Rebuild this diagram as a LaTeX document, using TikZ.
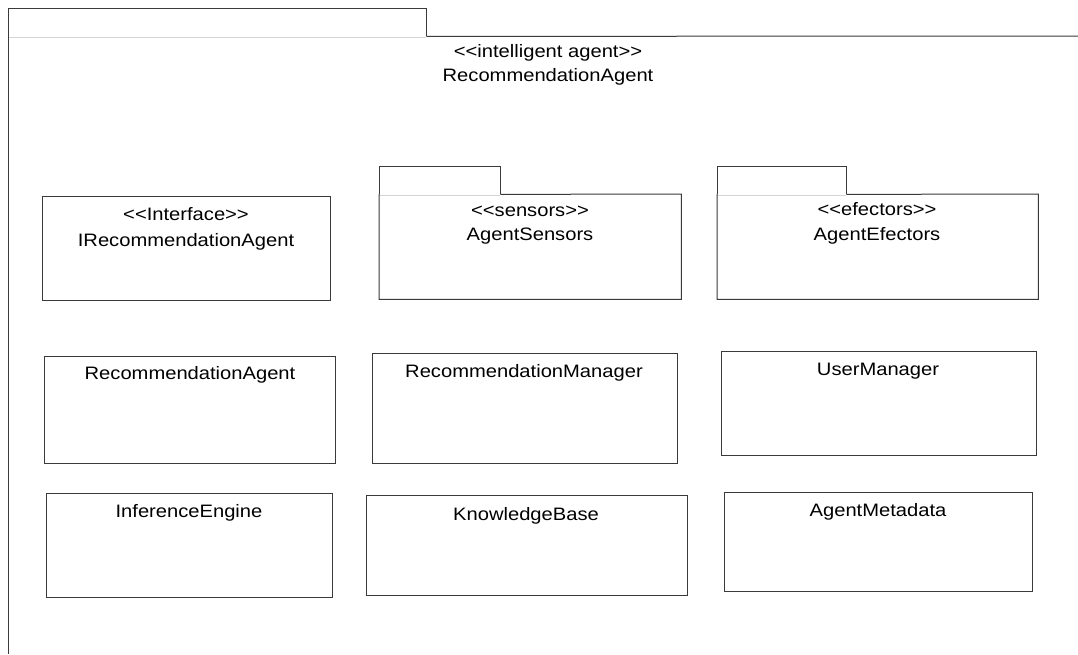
\documentclass[tikz,border=0pt]{standalone}
\usepackage{fontspec}
\setmainfont{Liberation Sans}[FakeStretch=1.12,Ligatures=TeXOff]
\definecolor{umlline}{HTML}{3A3A3A}
\definecolor{umlfaint}{HTML}{D4D4D4}
\begin{document}
\begin{tikzpicture}[x=1pt,y=-1pt,
  outline/.style={draw=umlline, line width=1pt},
  faint/.style={draw=umlfaint, line width=1pt},
  frame/.style={shape=rectangle, inner sep=0pt, anchor=north west},
  classbox/.style={frame, draw=umlline, line width=1pt},
  txt/.style={anchor=base, inner sep=0pt, font=\fontsize{18}{21}\selectfont}]
\useasboundingbox[fill=white] (0,0) rectangle (1078,654);

% outer package: RecommendationAgent
\node[frame, minimum width=418pt, minimum height=28pt] (pkgTab) at (8,8) {};
\coordinate (pkgFoot) at (8,654);
\coordinate (pkgEnd) at (1078,36);
\draw[outline] (pkgTab.south west) -- (pkgTab.north west) -- (pkgTab.north east) -- (pkgTab.south east);
\draw[faint] ([yshift=-1.5pt]pkgTab.south west) -- ([yshift=-1.5pt]pkgTab.south east);
\draw[outline] (pkgTab.south west) -- (pkgFoot);
\draw[outline] (pkgTab.south east) -- (pkgEnd);
\node[txt] (pkgStereo) at (548,57) {<<intelligent agent>>};
\node[txt] (pkgName) at (548,81) {RecommendationAgent};

% interface
\node[classbox, minimum width=288pt, minimum height=104pt] (iface) at (42,196) {};
\node[txt] (ifaceStereo) at (186,220) {<<Interface>>};
\node[txt] (ifaceName) at (186,246) {IRecommendationAgent};

% package: AgentSensors
\node[frame, minimum width=121pt, minimum height=28pt] (sensTab) at (379,166) {};
\node[frame, minimum width=302pt, minimum height=105pt] (sens) at (379,194) {};
\draw[outline] (sensTab.south west) -- (sensTab.north west) -- (sensTab.north east) -- (sensTab.south east);
\draw[faint] ([yshift=-1pt]sensTab.south west) -- ([yshift=-1pt]sensTab.south east);
\draw[outline] (sens.north west) -- (sens.south west) -- (sens.south east) -- (sens.north east) -- (sensTab.south east);
\node[txt] (sensStereo) at (530,216) {<<sensors>>};
\node[txt] (sensName) at (530,240) {AgentSensors};

% package: AgentEfectors
\node[frame, minimum width=129pt, minimum height=28pt] (efTab) at (717,166) {};
\node[frame, minimum width=321pt, minimum height=105pt] (ef) at (717,194) {};
\draw[outline] (efTab.south west) -- (efTab.north west) -- (efTab.north east) -- (efTab.south east);
\draw[faint] ([yshift=-1pt]efTab.south west) -- ([yshift=-1pt]efTab.south east);
\draw[outline] (ef.north west) -- (ef.south west) -- (ef.south east) -- (ef.north east) -- (efTab.south east);
\node[txt] (efStereo) at (877,215) {<<efectors>>};
\node[txt] (efName) at (877,240) {AgentEfectors};

% classes
\node[classbox, minimum width=291pt, minimum height=107pt] (recAgent) at (44,356) {};
\node[txt] (recAgentName) at (190,379) {RecommendationAgent};

\node[classbox, minimum width=305pt, minimum height=110pt] (recMgr) at (372,353) {};
\node[txt] (recMgrName) at (524,377) {RecommendationManager};

\node[classbox, minimum width=315pt, minimum height=104pt] (userMgr) at (721,351) {};
\node[txt] (userMgrName) at (878,375) {UserManager};

\node[classbox, minimum width=286pt, minimum height=104pt] (infEng) at (46,493) {};
\node[txt] (infEngName) at (189,517) {InferenceEngine};

\node[classbox, minimum width=321pt, minimum height=100pt] (kb) at (366,495) {};
\node[txt] (kbName) at (526,520) {KnowledgeBase};

\node[classbox, minimum width=308pt, minimum height=99pt] (meta) at (724,492) {};
\node[txt] (metaName) at (878,516) {AgentMetadata};
\end{tikzpicture}
\end{document}
